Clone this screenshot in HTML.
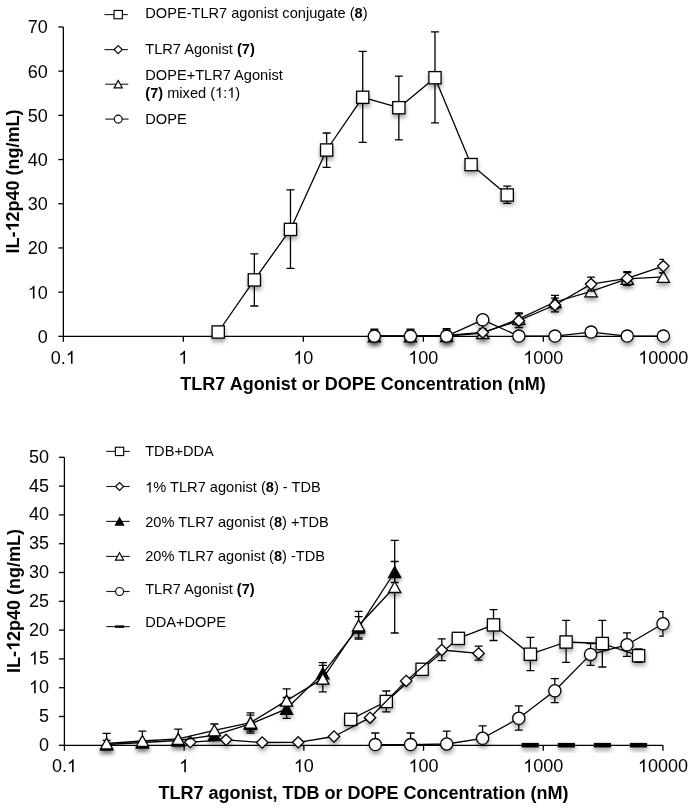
<!DOCTYPE html>
<html><head><meta charset="utf-8"><style>
html,body{margin:0;padding:0;background:#fff;width:691px;height:808px;overflow:hidden}
svg{display:block;will-change:transform}
text{font-family:"Liberation Sans",sans-serif;fill:#000}
</style></head><body>
<svg width="691" height="808" viewBox="0 0 691 808">
<defs><filter id="sh" x="-50%" y="-50%" width="200%" height="250%"><feDropShadow dx="0.3" dy="3.2" stdDeviation="2.1" flood-color="#000" flood-opacity="0.36"/></filter>
<clipPath id="c1"><rect x="0" y="0" width="663.8" height="336.2"/></clipPath>
<clipPath id="c2"><rect x="0" y="400" width="663.8" height="345.2"/></clipPath></defs>
<path d="M63.35 26.95V336.35H663.4" stroke="#000" stroke-width="1.3" fill="none"/>
<path d="M58.35 336.35H63.35" stroke="#000" stroke-width="1.3"/>
<text x="47.8" y="342.8" font-size="18" text-anchor="end">0</text>
<path d="M58.35 292.15H63.35" stroke="#000" stroke-width="1.3"/>
<text id="t0" x="47.8" y="298.6" font-size="18" text-anchor="end"> 0</text>
<path d="M58.35 247.95H63.35" stroke="#000" stroke-width="1.3"/>
<text x="47.8" y="254.4" font-size="18" text-anchor="end">20</text>
<path d="M58.35 203.75H63.35" stroke="#000" stroke-width="1.3"/>
<text x="47.8" y="210.2" font-size="18" text-anchor="end">30</text>
<path d="M58.35 159.55H63.35" stroke="#000" stroke-width="1.3"/>
<text x="47.8" y="166.0" font-size="18" text-anchor="end">40</text>
<path d="M58.35 115.35H63.35" stroke="#000" stroke-width="1.3"/>
<text x="47.8" y="121.8" font-size="18" text-anchor="end">50</text>
<path d="M58.35 71.15H63.35" stroke="#000" stroke-width="1.3"/>
<text x="47.8" y="77.6" font-size="18" text-anchor="end">60</text>
<path d="M58.35 26.95H63.35" stroke="#000" stroke-width="1.3"/>
<text x="47.8" y="33.4" font-size="18" text-anchor="end">70</text>
<path d="M63.35 336.35V341.85" stroke="#000" stroke-width="1.3"/>
<text id="t1" x="63.35" y="363.8" font-size="18" text-anchor="middle">0. </text>
<path d="M183.35 336.35V341.85" stroke="#000" stroke-width="1.3"/>
<text id="t2" x="183.35" y="363.8" font-size="18" text-anchor="middle"> </text>
<path d="M303.35 336.35V341.85" stroke="#000" stroke-width="1.3"/>
<text id="t3" x="303.35" y="363.8" font-size="18" text-anchor="middle"> 0</text>
<path d="M423.35 336.35V341.85" stroke="#000" stroke-width="1.3"/>
<text id="t4" x="423.35" y="363.8" font-size="18" text-anchor="middle"> 00</text>
<path d="M543.35 336.35V341.85" stroke="#000" stroke-width="1.3"/>
<text id="t5" x="543.35" y="363.8" font-size="18" text-anchor="middle"> 000</text>
<path d="M663.35 336.35V341.85" stroke="#000" stroke-width="1.3"/>
<text id="t6" x="663.35" y="363.8" font-size="18" text-anchor="middle"> 0000</text>
<text x="363" y="389.9" font-size="18" text-anchor="middle" font-weight="bold">TLR7 Agonist or DOPE Concentration (nM)</text>
<g transform="translate(18.8 181.6) rotate(-90)"><text id="t7" x="0" y="0" font-size="18" text-anchor="middle" font-weight="bold">IL- 2p40 (ng/mL)</text><path d="M856 0L575 0L575 1059Q421 915 212 847L212 1102Q322 1138 451 1238Q580 1338 628 1466L856 1466Z" transform="translate(-50.023 0.000) scale(0.008789 -0.008789)" fill="#000"/></g>
<path d="M218.23 332.00 L254.36 279.90 L290.48 229.40 L326.61 150.00 L362.73 97.30 L398.86 107.70 L434.98 77.70 L471.10 164.60 L507.23 195.00" stroke="#000" stroke-width="1.3" fill="none" stroke-linejoin="round"/>
<path d="M254.36 253.90V306.00M250.36 253.90H258.36M250.36 306.00H258.36" stroke="#000" stroke-width="1.3" fill="none" clip-path="url(#c1)"/>
<path d="M290.48 189.80V268.30M286.48 189.80H294.48M286.48 268.30H294.48" stroke="#000" stroke-width="1.3" fill="none" clip-path="url(#c1)"/>
<path d="M326.61 133.00V167.30M322.61 133.00H330.61M322.61 167.30H330.61" stroke="#000" stroke-width="1.3" fill="none" clip-path="url(#c1)"/>
<path d="M362.73 51.40V142.40M358.73 51.40H366.73M358.73 142.40H366.73" stroke="#000" stroke-width="1.3" fill="none" clip-path="url(#c1)"/>
<path d="M398.86 76.20V139.80M394.86 76.20H402.86M394.86 139.80H402.86" stroke="#000" stroke-width="1.3" fill="none" clip-path="url(#c1)"/>
<path d="M434.98 31.80V122.90M430.98 31.80H438.98M430.98 122.90H438.98" stroke="#000" stroke-width="1.3" fill="none" clip-path="url(#c1)"/>
<path d="M507.23 186.20V203.40M503.23 186.20H511.23M503.23 203.40H511.23" stroke="#000" stroke-width="1.3" fill="none" clip-path="url(#c1)"/>
<rect x="212.13" y="325.90" width="12.20" height="12.20" fill="#fff" stroke="#000" stroke-width="1.3" filter="url(#sh)"/>
<rect x="248.26" y="273.80" width="12.20" height="12.20" fill="#fff" stroke="#000" stroke-width="1.3" filter="url(#sh)"/>
<rect x="284.38" y="223.30" width="12.20" height="12.20" fill="#fff" stroke="#000" stroke-width="1.3" filter="url(#sh)"/>
<rect x="320.51" y="143.90" width="12.20" height="12.20" fill="#fff" stroke="#000" stroke-width="1.3" filter="url(#sh)"/>
<rect x="356.63" y="91.20" width="12.20" height="12.20" fill="#fff" stroke="#000" stroke-width="1.3" filter="url(#sh)"/>
<rect x="392.76" y="101.60" width="12.20" height="12.20" fill="#fff" stroke="#000" stroke-width="1.3" filter="url(#sh)"/>
<rect x="428.88" y="71.60" width="12.20" height="12.20" fill="#fff" stroke="#000" stroke-width="1.3" filter="url(#sh)"/>
<rect x="465.00" y="158.50" width="12.20" height="12.20" fill="#fff" stroke="#000" stroke-width="1.3" filter="url(#sh)"/>
<rect x="501.13" y="188.90" width="12.20" height="12.20" fill="#fff" stroke="#000" stroke-width="1.3" filter="url(#sh)"/>
<path d="M374.36 336.40 L410.48 336.40 L446.61 336.00 L482.73 333.20 L518.86 318.90 L554.98 302.00 L591.10 291.30 L627.23 278.90 L663.35 276.80" stroke="#000" stroke-width="1.3" fill="none" stroke-linejoin="round"/>
<path d="M374.36 330.20V342.60M370.36 330.20H378.36M370.36 342.60H378.36" stroke="#000" stroke-width="1.3" fill="none" clip-path="url(#c1)"/>
<path d="M410.48 330.20V342.60M406.48 330.20H414.48M406.48 342.60H414.48" stroke="#000" stroke-width="1.3" fill="none" clip-path="url(#c1)"/>
<path d="M446.61 329.80V342.20M442.61 329.80H450.61M442.61 342.20H450.61" stroke="#000" stroke-width="1.3" fill="none" clip-path="url(#c1)"/>

<path d="M518.86 313.00V324.80M514.86 313.00H522.86M514.86 324.80H522.86" stroke="#000" stroke-width="1.3" fill="none" clip-path="url(#c1)"/>
<path d="M554.98 295.30V308.70M550.98 295.30H558.98M550.98 308.70H558.98" stroke="#000" stroke-width="1.3" fill="none" clip-path="url(#c1)"/>

<path d="M627.23 272.60V285.20M623.23 272.60H631.23M623.23 285.20H631.23" stroke="#000" stroke-width="1.3" fill="none" clip-path="url(#c1)"/>
<path d="M663.35 272.90V280.70M659.35 272.90H667.35M659.35 280.70H667.35" stroke="#000" stroke-width="1.3" fill="none" clip-path="url(#c1)"/>
<path d="M374.36 330.90L380.46 341.90L368.26 341.90Z" fill="#fff" stroke="#000" stroke-width="1.3" stroke-linejoin="miter" filter="url(#sh)"/>
<path d="M410.48 330.90L416.58 341.90L404.38 341.90Z" fill="#fff" stroke="#000" stroke-width="1.3" stroke-linejoin="miter" filter="url(#sh)"/>
<path d="M446.61 330.50L452.71 341.50L440.51 341.50Z" fill="#fff" stroke="#000" stroke-width="1.3" stroke-linejoin="miter" filter="url(#sh)"/>
<path d="M482.73 327.70L488.83 338.70L476.63 338.70Z" fill="#fff" stroke="#000" stroke-width="1.3" stroke-linejoin="miter" filter="url(#sh)"/>
<path d="M518.86 313.40L524.96 324.40L512.76 324.40Z" fill="#fff" stroke="#000" stroke-width="1.3" stroke-linejoin="miter" filter="url(#sh)"/>
<path d="M554.98 296.50L561.08 307.50L548.88 307.50Z" fill="#fff" stroke="#000" stroke-width="1.3" stroke-linejoin="miter" filter="url(#sh)"/>
<path d="M591.10 285.80L597.20 296.80L585.00 296.80Z" fill="#fff" stroke="#000" stroke-width="1.3" stroke-linejoin="miter" filter="url(#sh)"/>
<path d="M627.23 273.40L633.33 284.40L621.13 284.40Z" fill="#fff" stroke="#000" stroke-width="1.3" stroke-linejoin="miter" filter="url(#sh)"/>
<path d="M663.35 271.30L669.45 282.30L657.25 282.30Z" fill="#fff" stroke="#000" stroke-width="1.3" stroke-linejoin="miter" filter="url(#sh)"/>
<path d="M374.36 336.00 L410.48 336.00 L446.61 335.50 L482.73 332.40 L518.86 320.70 L554.98 305.00 L591.10 284.10 L627.23 278.40 L663.35 266.10" stroke="#000" stroke-width="1.3" fill="none" stroke-linejoin="round"/>
<path d="M374.36 329.20V342.80M370.36 329.20H378.36M370.36 342.80H378.36" stroke="#000" stroke-width="1.3" fill="none" clip-path="url(#c1)"/>
<path d="M410.48 329.20V342.80M406.48 329.20H414.48M406.48 342.80H414.48" stroke="#000" stroke-width="1.3" fill="none" clip-path="url(#c1)"/>
<path d="M446.61 328.60V342.40M442.61 328.60H450.61M442.61 342.40H450.61" stroke="#000" stroke-width="1.3" fill="none" clip-path="url(#c1)"/>
<path d="M482.73 329.00V335.80M478.73 329.00H486.73M478.73 335.80H486.73" stroke="#000" stroke-width="1.3" fill="none" clip-path="url(#c1)"/>
<path d="M518.86 313.80V327.60M514.86 313.80H522.86M514.86 327.60H522.86" stroke="#000" stroke-width="1.3" fill="none" clip-path="url(#c1)"/>
<path d="M554.98 298.20V311.80M550.98 298.20H558.98M550.98 311.80H558.98" stroke="#000" stroke-width="1.3" fill="none" clip-path="url(#c1)"/>
<path d="M591.10 277.10V291.10M587.10 277.10H595.10M587.10 291.10H595.10" stroke="#000" stroke-width="1.3" fill="none" clip-path="url(#c1)"/>
<path d="M627.23 271.60V285.20M623.23 271.60H631.23M623.23 285.20H631.23" stroke="#000" stroke-width="1.3" fill="none" clip-path="url(#c1)"/>
<path d="M663.35 259.30V272.90M659.35 259.30H667.35M659.35 272.90H667.35" stroke="#000" stroke-width="1.3" fill="none" clip-path="url(#c1)"/>
<path d="M374.36 330.40L380.06 336.00L374.36 341.60L368.66 336.00Z" fill="#fff" stroke="#000" stroke-width="1.3" stroke-linejoin="miter" filter="url(#sh)"/>
<path d="M410.48 330.40L416.18 336.00L410.48 341.60L404.78 336.00Z" fill="#fff" stroke="#000" stroke-width="1.3" stroke-linejoin="miter" filter="url(#sh)"/>
<path d="M446.61 329.90L452.31 335.50L446.61 341.10L440.91 335.50Z" fill="#fff" stroke="#000" stroke-width="1.3" stroke-linejoin="miter" filter="url(#sh)"/>
<path d="M482.73 326.80L488.43 332.40L482.73 338.00L477.03 332.40Z" fill="#fff" stroke="#000" stroke-width="1.3" stroke-linejoin="miter" filter="url(#sh)"/>
<path d="M518.86 315.10L524.56 320.70L518.86 326.30L513.16 320.70Z" fill="#fff" stroke="#000" stroke-width="1.3" stroke-linejoin="miter" filter="url(#sh)"/>
<path d="M554.98 299.40L560.68 305.00L554.98 310.60L549.28 305.00Z" fill="#fff" stroke="#000" stroke-width="1.3" stroke-linejoin="miter" filter="url(#sh)"/>
<path d="M591.10 278.50L596.80 284.10L591.10 289.70L585.40 284.10Z" fill="#fff" stroke="#000" stroke-width="1.3" stroke-linejoin="miter" filter="url(#sh)"/>
<path d="M627.23 272.80L632.93 278.40L627.23 284.00L621.53 278.40Z" fill="#fff" stroke="#000" stroke-width="1.3" stroke-linejoin="miter" filter="url(#sh)"/>
<path d="M663.35 260.50L669.05 266.10L663.35 271.70L657.65 266.10Z" fill="#fff" stroke="#000" stroke-width="1.3" stroke-linejoin="miter" filter="url(#sh)"/>
<path d="M374.36 336.10 L410.48 336.10 L446.61 336.10 L482.73 319.80 L518.86 336.10 L554.98 336.10 L591.10 332.10 L627.23 336.10 L663.35 336.10" stroke="#000" stroke-width="1.3" fill="none" stroke-linejoin="round"/>
<circle cx="374.36" cy="336.10" r="6.10" fill="#fff" stroke="#000" stroke-width="1.3" filter="url(#sh)"/>
<circle cx="410.48" cy="336.10" r="6.10" fill="#fff" stroke="#000" stroke-width="1.3" filter="url(#sh)"/>
<circle cx="446.61" cy="336.10" r="6.10" fill="#fff" stroke="#000" stroke-width="1.3" filter="url(#sh)"/>
<circle cx="482.73" cy="319.80" r="6.10" fill="#fff" stroke="#000" stroke-width="1.3" filter="url(#sh)"/>
<circle cx="518.86" cy="336.10" r="6.10" fill="#fff" stroke="#000" stroke-width="1.3" filter="url(#sh)"/>
<circle cx="554.98" cy="336.10" r="6.10" fill="#fff" stroke="#000" stroke-width="1.3" filter="url(#sh)"/>
<circle cx="591.10" cy="332.10" r="6.10" fill="#fff" stroke="#000" stroke-width="1.3" filter="url(#sh)"/>
<circle cx="627.23" cy="336.10" r="6.10" fill="#fff" stroke="#000" stroke-width="1.3" filter="url(#sh)"/>
<circle cx="663.35" cy="336.10" r="6.10" fill="#fff" stroke="#000" stroke-width="1.3" filter="url(#sh)"/>
<path d="M104.4 14.6H127.9" stroke="#1a1a1a" stroke-width="1.1"/>
<rect x="114.05" y="10.45" width="8.30" height="8.30" fill="#fff" stroke="#000" stroke-width="1.15"/>
<path d="M104.4 49.6H127.9" stroke="#1a1a1a" stroke-width="1.1"/>
<path d="M118.20 45.57L122.30 49.60L118.20 53.63L114.10 49.60Z" fill="#fff" stroke="#000" stroke-width="1.15" stroke-linejoin="miter"/>
<path d="M105.3 84.2H128.3" stroke="#1a1a1a" stroke-width="1.1"/>
<path d="M118.20 80.52L122.29 87.89L114.11 87.89Z" fill="#fff" stroke="#000" stroke-width="1.15" stroke-linejoin="miter"/>
<path d="M105.3 119.1H128.6" stroke="#1a1a1a" stroke-width="1.1"/>
<circle cx="118.20" cy="119.10" r="3.96" fill="#fff" stroke="#000" stroke-width="1.15"/>
<text x="145.3" y="17.8" font-size="14.6">DOPE-TLR7 agonist conjugate (<tspan font-weight="bold">8</tspan>)</text>
<text x="145.3" y="53.8" font-size="14.6">TLR7 Agonist <tspan font-weight="bold">(7)</tspan></text>
<text x="145.3" y="80.3" font-size="14.6">DOPE+TLR7 Agonist</text>
<text id="t8" x="145.3" y="97.8" font-size="14.6"><tspan font-weight="bold">(7)</tspan> mixed ( : )</text>
<text x="145.3" y="124.0" font-size="14.6">DOPE</text>
<path d="M64.4 457.30V745.3H663.0" stroke="#000" stroke-width="1.3" fill="none"/>
<path d="M58.900000000000006 745.30H64.4" stroke="#000" stroke-width="1.3"/>
<text x="49.0" y="750.8" font-size="18" text-anchor="end">0</text>
<path d="M58.900000000000006 716.50H64.4" stroke="#000" stroke-width="1.3"/>
<text x="49.0" y="722.0" font-size="18" text-anchor="end">5</text>
<path d="M58.900000000000006 687.70H64.4" stroke="#000" stroke-width="1.3"/>
<text id="t9" x="49.0" y="693.2" font-size="18" text-anchor="end"> 0</text>
<path d="M58.900000000000006 658.90H64.4" stroke="#000" stroke-width="1.3"/>
<text id="t10" x="49.0" y="664.4" font-size="18" text-anchor="end"> 5</text>
<path d="M58.900000000000006 630.10H64.4" stroke="#000" stroke-width="1.3"/>
<text x="49.0" y="635.6" font-size="18" text-anchor="end">20</text>
<path d="M58.900000000000006 601.30H64.4" stroke="#000" stroke-width="1.3"/>
<text x="49.0" y="606.8" font-size="18" text-anchor="end">25</text>
<path d="M58.900000000000006 572.50H64.4" stroke="#000" stroke-width="1.3"/>
<text x="49.0" y="578.0" font-size="18" text-anchor="end">30</text>
<path d="M58.900000000000006 543.70H64.4" stroke="#000" stroke-width="1.3"/>
<text x="49.0" y="549.2" font-size="18" text-anchor="end">35</text>
<path d="M58.900000000000006 514.90H64.4" stroke="#000" stroke-width="1.3"/>
<text x="49.0" y="520.4" font-size="18" text-anchor="end">40</text>
<path d="M58.900000000000006 486.10H64.4" stroke="#000" stroke-width="1.3"/>
<text x="49.0" y="491.6" font-size="18" text-anchor="end">45</text>
<path d="M58.900000000000006 457.30H64.4" stroke="#000" stroke-width="1.3"/>
<text x="49.0" y="462.8" font-size="18" text-anchor="end">50</text>
<path d="M64.45 745.3V750.8" stroke="#000" stroke-width="1.3"/>
<text id="t11" x="64.45" y="772.3" font-size="18" text-anchor="middle">0. </text>
<path d="M184.15 745.3V750.8" stroke="#000" stroke-width="1.3"/>
<text id="t12" x="184.15" y="772.3" font-size="18" text-anchor="middle"> </text>
<path d="M303.85 745.3V750.8" stroke="#000" stroke-width="1.3"/>
<text id="t13" x="303.85" y="772.3" font-size="18" text-anchor="middle"> 0</text>
<path d="M423.55 745.3V750.8" stroke="#000" stroke-width="1.3"/>
<text id="t14" x="423.55" y="772.3" font-size="18" text-anchor="middle"> 00</text>
<path d="M543.25 745.3V750.8" stroke="#000" stroke-width="1.3"/>
<text id="t15" x="543.25" y="772.3" font-size="18" text-anchor="middle"> 000</text>
<path d="M662.95 745.3V750.8" stroke="#000" stroke-width="1.3"/>
<text id="t16" x="662.95" y="772.3" font-size="18" text-anchor="middle"> 0000</text>
<text x="363.6" y="798.8" font-size="18" text-anchor="middle" font-weight="bold">TLR7 agonist, TDB or DOPE Concentration (nM)</text>
<g transform="translate(19.5 601) rotate(-90)"><text id="t17" x="0" y="0" font-size="18" text-anchor="middle" font-weight="bold">IL- 2p40 (ng/mL)</text><path d="M856 0L575 0L575 1059Q421 915 212 847L212 1102Q322 1138 451 1238Q580 1338 628 1466L856 1466Z" transform="translate(-50.023 0.000) scale(0.008789 -0.008789)" fill="#000"/></g>
<path d="M375.30 744.60 L410.60 744.60 L446.70 744.00 L482.60 738.30 L518.80 718.30 L554.80 690.80 L590.60 654.40 L627.00 644.80 L663.00 623.80" stroke="#000" stroke-width="1.3" fill="none" stroke-linejoin="round"/>
<path d="M375.30 733.00V756.20M371.30 733.00H379.30M371.30 756.20H379.30" stroke="#000" stroke-width="1.3" fill="none" clip-path="url(#c2)"/>
<path d="M410.60 733.00V756.20M406.60 733.00H414.60M406.60 756.20H414.60" stroke="#000" stroke-width="1.3" fill="none" clip-path="url(#c2)"/>
<path d="M446.70 731.20V756.80M442.70 731.20H450.70M442.70 756.80H450.70" stroke="#000" stroke-width="1.3" fill="none" clip-path="url(#c2)"/>
<path d="M482.60 725.90V750.70M478.60 725.90H486.60M478.60 750.70H486.60" stroke="#000" stroke-width="1.3" fill="none" clip-path="url(#c2)"/>
<path d="M518.80 705.80V730.20M514.80 705.80H522.80M514.80 730.20H522.80" stroke="#000" stroke-width="1.3" fill="none" clip-path="url(#c2)"/>
<path d="M554.80 678.60V702.70M550.80 678.60H558.80M550.80 702.70H558.80" stroke="#000" stroke-width="1.3" fill="none" clip-path="url(#c2)"/>
<path d="M590.60 643.50V665.30M586.60 643.50H594.60M586.60 665.30H594.60" stroke="#000" stroke-width="1.3" fill="none" clip-path="url(#c2)"/>
<path d="M627.00 632.80V656.30M623.00 632.80H631.00M623.00 656.30H631.00" stroke="#000" stroke-width="1.3" fill="none" clip-path="url(#c2)"/>
<path d="M663.00 611.60V636.20M659.00 611.60H667.00M659.00 636.20H667.00" stroke="#000" stroke-width="1.3" fill="none" clip-path="url(#c2)"/>
<circle cx="375.30" cy="744.60" r="6.10" fill="#fff" stroke="#000" stroke-width="1.3" filter="url(#sh)"/>
<circle cx="410.60" cy="744.60" r="6.10" fill="#fff" stroke="#000" stroke-width="1.3" filter="url(#sh)"/>
<circle cx="446.70" cy="744.00" r="6.10" fill="#fff" stroke="#000" stroke-width="1.3" filter="url(#sh)"/>
<circle cx="482.60" cy="738.30" r="6.10" fill="#fff" stroke="#000" stroke-width="1.3" filter="url(#sh)"/>
<circle cx="518.80" cy="718.30" r="6.10" fill="#fff" stroke="#000" stroke-width="1.3" filter="url(#sh)"/>
<circle cx="554.80" cy="690.80" r="6.10" fill="#fff" stroke="#000" stroke-width="1.3" filter="url(#sh)"/>
<circle cx="590.60" cy="654.40" r="6.10" fill="#fff" stroke="#000" stroke-width="1.3" filter="url(#sh)"/>
<circle cx="627.00" cy="644.80" r="6.10" fill="#fff" stroke="#000" stroke-width="1.3" filter="url(#sh)"/>
<circle cx="663.00" cy="623.80" r="6.10" fill="#fff" stroke="#000" stroke-width="1.3" filter="url(#sh)"/>
<path d="M350.70 719.40 L386.30 701.50 L422.10 669.30 L458.30 638.40 L493.50 624.90 L530.40 654.20 L566.10 642.00 L602.30 643.50 L638.60 655.70" stroke="#000" stroke-width="1.3" fill="none" stroke-linejoin="round"/>

<path d="M386.30 691.00V711.90M382.30 691.00H390.30M382.30 711.90H390.30" stroke="#000" stroke-width="1.3" fill="none" clip-path="url(#c2)"/>


<path d="M493.50 609.60V640.50M489.50 609.60H497.50M489.50 640.50H497.50" stroke="#000" stroke-width="1.3" fill="none" clip-path="url(#c2)"/>
<path d="M530.40 637.40V670.70M526.40 637.40H534.40M526.40 670.70H534.40" stroke="#000" stroke-width="1.3" fill="none" clip-path="url(#c2)"/>
<path d="M566.10 620.30V662.40M562.10 620.30H570.10M562.10 662.40H570.10" stroke="#000" stroke-width="1.3" fill="none" clip-path="url(#c2)"/>
<path d="M602.30 620.30V667.00M598.30 620.30H606.30M598.30 667.00H606.30" stroke="#000" stroke-width="1.3" fill="none" clip-path="url(#c2)"/>
<path d="M638.60 649.00V662.40M634.60 649.00H642.60M634.60 662.40H642.60" stroke="#000" stroke-width="1.3" fill="none" clip-path="url(#c2)"/>
<rect x="344.60" y="713.30" width="12.20" height="12.20" fill="#fff" stroke="#000" stroke-width="1.3" filter="url(#sh)"/>
<rect x="380.20" y="695.40" width="12.20" height="12.20" fill="#fff" stroke="#000" stroke-width="1.3" filter="url(#sh)"/>
<rect x="416.00" y="663.20" width="12.20" height="12.20" fill="#fff" stroke="#000" stroke-width="1.3" filter="url(#sh)"/>
<rect x="452.20" y="632.30" width="12.20" height="12.20" fill="#fff" stroke="#000" stroke-width="1.3" filter="url(#sh)"/>
<rect x="487.40" y="618.80" width="12.20" height="12.20" fill="#fff" stroke="#000" stroke-width="1.3" filter="url(#sh)"/>
<rect x="524.30" y="648.10" width="12.20" height="12.20" fill="#fff" stroke="#000" stroke-width="1.3" filter="url(#sh)"/>
<rect x="560.00" y="635.90" width="12.20" height="12.20" fill="#fff" stroke="#000" stroke-width="1.3" filter="url(#sh)"/>
<rect x="596.20" y="637.40" width="12.20" height="12.20" fill="#fff" stroke="#000" stroke-width="1.3" filter="url(#sh)"/>
<rect x="632.50" y="649.60" width="12.20" height="12.20" fill="#fff" stroke="#000" stroke-width="1.3" filter="url(#sh)"/>
<path d="M190.30 742.10 L226.10 739.80 L262.20 742.50 L298.20 742.30 L334.00 736.50 L370.00 717.70 L406.20 680.90 L441.80 650.00 L478.60 653.40" stroke="#000" stroke-width="1.3" fill="none" stroke-linejoin="round"/>







<path d="M441.80 638.90V660.60M437.80 638.90H445.80M437.80 660.60H445.80" stroke="#000" stroke-width="1.3" fill="none" clip-path="url(#c2)"/>
<path d="M478.60 646.20V660.10M474.60 646.20H482.60M474.60 660.10H482.60" stroke="#000" stroke-width="1.3" fill="none" clip-path="url(#c2)"/>
<path d="M190.30 736.50L196.00 742.10L190.30 747.70L184.60 742.10Z" fill="#fff" stroke="#000" stroke-width="1.3" stroke-linejoin="miter" filter="url(#sh)"/>
<path d="M226.10 734.20L231.80 739.80L226.10 745.40L220.40 739.80Z" fill="#fff" stroke="#000" stroke-width="1.3" stroke-linejoin="miter" filter="url(#sh)"/>
<path d="M262.20 736.90L267.90 742.50L262.20 748.10L256.50 742.50Z" fill="#fff" stroke="#000" stroke-width="1.3" stroke-linejoin="miter" filter="url(#sh)"/>
<path d="M298.20 736.70L303.90 742.30L298.20 747.90L292.50 742.30Z" fill="#fff" stroke="#000" stroke-width="1.3" stroke-linejoin="miter" filter="url(#sh)"/>
<path d="M334.00 730.90L339.70 736.50L334.00 742.10L328.30 736.50Z" fill="#fff" stroke="#000" stroke-width="1.3" stroke-linejoin="miter" filter="url(#sh)"/>
<path d="M370.00 712.10L375.70 717.70L370.00 723.30L364.30 717.70Z" fill="#fff" stroke="#000" stroke-width="1.3" stroke-linejoin="miter" filter="url(#sh)"/>
<path d="M406.20 675.30L411.90 680.90L406.20 686.50L400.50 680.90Z" fill="#fff" stroke="#000" stroke-width="1.3" stroke-linejoin="miter" filter="url(#sh)"/>
<path d="M441.80 644.40L447.50 650.00L441.80 655.60L436.10 650.00Z" fill="#fff" stroke="#000" stroke-width="1.3" stroke-linejoin="miter" filter="url(#sh)"/>
<path d="M478.60 647.80L484.30 653.40L478.60 659.00L472.90 653.40Z" fill="#fff" stroke="#000" stroke-width="1.3" stroke-linejoin="miter" filter="url(#sh)"/>
<path d="M106.60 744.50 L142.40 742.50 L178.20 740.50 L214.40 735.20 L250.50 723.90 L286.60 708.80 L322.80 673.40 L358.60 627.60 L394.70 572.00" stroke="#000" stroke-width="1.3" fill="none" stroke-linejoin="round"/>
<path d="M106.60 740.30V748.70M102.60 740.30H110.60M102.60 748.70H110.60" stroke="#000" stroke-width="1.3" fill="none" clip-path="url(#c2)"/>



<path d="M250.50 715.20V733.20M246.50 715.20H254.50M246.50 733.20H254.50" stroke="#000" stroke-width="1.3" fill="none" clip-path="url(#c2)"/>
<path d="M286.60 697.50V718.40M282.60 697.50H290.60M282.60 718.40H290.60" stroke="#000" stroke-width="1.3" fill="none" clip-path="url(#c2)"/>
<path d="M322.80 662.70V684.10M318.80 662.70H326.80M318.80 684.10H326.80" stroke="#000" stroke-width="1.3" fill="none" clip-path="url(#c2)"/>
<path d="M358.60 616.60V637.90M354.60 616.60H362.60M354.60 637.90H362.60" stroke="#000" stroke-width="1.3" fill="none" clip-path="url(#c2)"/>
<path d="M394.70 561.50V582.50M390.70 561.50H398.70M390.70 582.50H398.70" stroke="#000" stroke-width="1.3" fill="none" clip-path="url(#c2)"/>
<path d="M106.60 739.00L112.70 750.00L100.50 750.00Z" fill="#000" stroke="#000" stroke-width="1.3" stroke-linejoin="miter" filter="url(#sh)"/>
<path d="M142.40 737.00L148.50 748.00L136.30 748.00Z" fill="#000" stroke="#000" stroke-width="1.3" stroke-linejoin="miter" filter="url(#sh)"/>
<path d="M178.20 735.00L184.30 746.00L172.10 746.00Z" fill="#000" stroke="#000" stroke-width="1.3" stroke-linejoin="miter" filter="url(#sh)"/>
<path d="M214.40 729.70L220.50 740.70L208.30 740.70Z" fill="#000" stroke="#000" stroke-width="1.3" stroke-linejoin="miter" filter="url(#sh)"/>
<path d="M250.50 718.40L256.60 729.40L244.40 729.40Z" fill="#000" stroke="#000" stroke-width="1.3" stroke-linejoin="miter" filter="url(#sh)"/>
<path d="M286.60 703.30L292.70 714.30L280.50 714.30Z" fill="#000" stroke="#000" stroke-width="1.3" stroke-linejoin="miter" filter="url(#sh)"/>
<path d="M322.80 667.90L328.90 678.90L316.70 678.90Z" fill="#000" stroke="#000" stroke-width="1.3" stroke-linejoin="miter" filter="url(#sh)"/>
<path d="M358.60 622.10L364.70 633.10L352.50 633.10Z" fill="#000" stroke="#000" stroke-width="1.3" stroke-linejoin="miter" filter="url(#sh)"/>
<path d="M394.70 566.50L400.80 577.50L388.60 577.50Z" fill="#000" stroke="#000" stroke-width="1.3" stroke-linejoin="miter" filter="url(#sh)"/>
<path d="M106.60 743.50 L142.40 741.00 L178.20 738.90 L214.40 730.30 L250.50 722.60 L286.60 700.60 L322.80 678.60 L358.60 625.50 L394.70 587.00" stroke="#000" stroke-width="1.3" fill="none" stroke-linejoin="round"/>
<path d="M106.60 733.40V753.60M102.60 733.40H110.60M102.60 753.60H110.60" stroke="#000" stroke-width="1.3" fill="none" clip-path="url(#c2)"/>
<path d="M142.40 731.20V750.80M138.40 731.20H146.40M138.40 750.80H146.40" stroke="#000" stroke-width="1.3" fill="none" clip-path="url(#c2)"/>
<path d="M178.20 729.20V748.60M174.20 729.20H182.20M174.20 748.60H182.20" stroke="#000" stroke-width="1.3" fill="none" clip-path="url(#c2)"/>
<path d="M214.40 724.00V736.60M210.40 724.00H218.40M210.40 736.60H218.40" stroke="#000" stroke-width="1.3" fill="none" clip-path="url(#c2)"/>
<path d="M250.50 712.80V731.10M246.50 712.80H254.50M246.50 731.10H254.50" stroke="#000" stroke-width="1.3" fill="none" clip-path="url(#c2)"/>
<path d="M286.60 688.90V712.30M282.60 688.90H290.60M282.60 712.30H290.60" stroke="#000" stroke-width="1.3" fill="none" clip-path="url(#c2)"/>
<path d="M322.80 665.40V691.80M318.80 665.40H326.80M318.80 691.80H326.80" stroke="#000" stroke-width="1.3" fill="none" clip-path="url(#c2)"/>
<path d="M358.60 611.40V639.20M354.60 611.40H362.60M354.60 639.20H362.60" stroke="#000" stroke-width="1.3" fill="none" clip-path="url(#c2)"/>
<path d="M394.70 540.30V633.00M390.70 540.30H398.70M390.70 633.00H398.70" stroke="#000" stroke-width="1.3" fill="none" clip-path="url(#c2)"/>
<path d="M106.60 738.00L112.70 749.00L100.50 749.00Z" fill="#fff" stroke="#000" stroke-width="1.3" stroke-linejoin="miter" filter="url(#sh)"/>
<path d="M142.40 735.50L148.50 746.50L136.30 746.50Z" fill="#fff" stroke="#000" stroke-width="1.3" stroke-linejoin="miter" filter="url(#sh)"/>
<path d="M178.20 733.40L184.30 744.40L172.10 744.40Z" fill="#fff" stroke="#000" stroke-width="1.3" stroke-linejoin="miter" filter="url(#sh)"/>
<path d="M214.40 724.80L220.50 735.80L208.30 735.80Z" fill="#fff" stroke="#000" stroke-width="1.3" stroke-linejoin="miter" filter="url(#sh)"/>
<path d="M250.50 717.10L256.60 728.10L244.40 728.10Z" fill="#fff" stroke="#000" stroke-width="1.3" stroke-linejoin="miter" filter="url(#sh)"/>
<path d="M286.60 695.10L292.70 706.10L280.50 706.10Z" fill="#fff" stroke="#000" stroke-width="1.3" stroke-linejoin="miter" filter="url(#sh)"/>
<path d="M322.80 673.10L328.90 684.10L316.70 684.10Z" fill="#fff" stroke="#000" stroke-width="1.3" stroke-linejoin="miter" filter="url(#sh)"/>
<path d="M358.60 620.00L364.70 631.00L352.50 631.00Z" fill="#fff" stroke="#000" stroke-width="1.3" stroke-linejoin="miter" filter="url(#sh)"/>
<path d="M394.70 581.50L400.80 592.50L388.60 592.50Z" fill="#fff" stroke="#000" stroke-width="1.3" stroke-linejoin="miter" filter="url(#sh)"/>
<rect x="521.60" y="742.90" width="17.2" height="4.6" fill="#000" filter="url(#sh)"/>
<rect x="557.80" y="742.90" width="17.2" height="4.6" fill="#000" filter="url(#sh)"/>
<rect x="593.80" y="742.90" width="17.2" height="4.6" fill="#000" filter="url(#sh)"/>
<rect x="629.90" y="742.90" width="17.2" height="4.6" fill="#000" filter="url(#sh)"/>
<path d="M106.3 451.4H129.7" stroke="#1a1a1a" stroke-width="1.1"/>
<rect x="115.40" y="447.25" width="8.30" height="8.30" fill="#fff" stroke="#000" stroke-width="1.15"/>
<text x="145.2" y="455.6" font-size="14.6">TDB+DDA</text>
<path d="M106.3 486.5H129.7" stroke="#1a1a1a" stroke-width="1.1"/>
<path d="M119.55 482.47L123.65 486.50L119.55 490.53L115.45 486.50Z" fill="#fff" stroke="#000" stroke-width="1.15" stroke-linejoin="miter"/>
<text id="t18" x="145.2" y="492.4" font-size="14.6"> % TLR7 agonist (<tspan font-weight="bold">8</tspan>) - TDB</text>
<path d="M106.3 521.4H129.7" stroke="#1a1a1a" stroke-width="1.1"/>
<path d="M119.55 517.72L123.64 525.08L115.46 525.08Z" fill="#000" stroke="#000" stroke-width="1.15" stroke-linejoin="miter"/>
<text x="145.2" y="527.2" font-size="14.6">20% TLR7 agonist (<tspan font-weight="bold">8</tspan>) +TDB</text>
<path d="M106.3 556.4H129.7" stroke="#1a1a1a" stroke-width="1.1"/>
<path d="M119.55 552.72L123.64 560.08L115.46 560.08Z" fill="#fff" stroke="#000" stroke-width="1.15" stroke-linejoin="miter"/>
<text x="145.2" y="561.2" font-size="14.6">20% TLR7 agonist (<tspan font-weight="bold">8</tspan>) -TDB</text>
<path d="M106.3 591.5H129.7" stroke="#1a1a1a" stroke-width="1.1"/>
<circle cx="119.55" cy="591.50" r="3.96" fill="#fff" stroke="#000" stroke-width="1.15"/>
<text x="145.2" y="593.5" font-size="14.6">TLR7 Agonist <tspan font-weight="bold">(7)</tspan></text>
<path d="M106.3 626.6H129.7" stroke="#1a1a1a" stroke-width="1.1"/>
<rect x="114.9" y="625.35" width="9.2" height="2.5" fill="#000"/>
<text x="145.2" y="626.8" font-size="14.6">DDA+DOPE</text>
<path d="M763 0L583 0L583 1147Q518 1085 412.5 1023Q307 961 223 930L223 1104Q374 1175 487 1276Q600 1377 647 1472L763 1472Z" transform="translate(27.769 298.600) scale(0.008789 -0.008789)" fill="#000"/>
<path d="M763 0L583 0L583 1147Q518 1085 412.5 1023Q307 961 223 930L223 1104Q374 1175 487 1276Q600 1377 647 1472L763 1472Z" transform="translate(65.834 363.800) scale(0.008789 -0.008789)" fill="#000"/>
<path d="M763 0L583 0L583 1147Q518 1085 412.5 1023Q307 961 223 930L223 1104Q374 1175 487 1276Q600 1377 647 1472L763 1472Z" transform="translate(178.342 363.800) scale(0.008789 -0.008789)" fill="#000"/>
<path d="M763 0L583 0L583 1147Q518 1085 412.5 1023Q307 961 223 930L223 1104Q374 1175 487 1276Q600 1377 647 1472L763 1472Z" transform="translate(293.334 363.800) scale(0.008789 -0.008789)" fill="#000"/>
<path d="M763 0L583 0L583 1147Q518 1085 412.5 1023Q307 961 223 930L223 1104Q374 1175 487 1276Q600 1377 647 1472L763 1472Z" transform="translate(408.327 363.800) scale(0.008789 -0.008789)" fill="#000"/>
<path d="M763 0L583 0L583 1147Q518 1085 412.5 1023Q307 961 223 930L223 1104Q374 1175 487 1276Q600 1377 647 1472L763 1472Z" transform="translate(523.327 363.800) scale(0.008789 -0.008789)" fill="#000"/>
<path d="M763 0L583 0L583 1147Q518 1085 412.5 1023Q307 961 223 930L223 1104Q374 1175 487 1276Q600 1377 647 1472L763 1472Z" transform="translate(638.319 363.800) scale(0.008789 -0.008789)" fill="#000"/>
<path d="M763 0L583 0L583 1147Q518 1085 412.5 1023Q307 961 223 930L223 1104Q374 1175 487 1276Q600 1377 647 1472L763 1472Z" transform="translate(215.034 97.800) scale(0.007129 -0.007129)" fill="#000"/><path d="M763 0L583 0L583 1147Q518 1085 412.5 1023Q307 961 223 930L223 1104Q374 1175 487 1276Q600 1377 647 1472L763 1472Z" transform="translate(227.206 97.800) scale(0.007129 -0.007129)" fill="#000"/>
<path d="M763 0L583 0L583 1147Q518 1085 412.5 1023Q307 961 223 930L223 1104Q374 1175 487 1276Q600 1377 647 1472L763 1472Z" transform="translate(28.969 693.200) scale(0.008789 -0.008789)" fill="#000"/>
<path d="M763 0L583 0L583 1147Q518 1085 412.5 1023Q307 961 223 930L223 1104Q374 1175 487 1276Q600 1377 647 1472L763 1472Z" transform="translate(28.969 664.400) scale(0.008789 -0.008789)" fill="#000"/>
<path d="M763 0L583 0L583 1147Q518 1085 412.5 1023Q307 961 223 930L223 1104Q374 1175 487 1276Q600 1377 647 1472L763 1472Z" transform="translate(66.934 772.300) scale(0.008789 -0.008789)" fill="#000"/>
<path d="M763 0L583 0L583 1147Q518 1085 412.5 1023Q307 961 223 930L223 1104Q374 1175 487 1276Q600 1377 647 1472L763 1472Z" transform="translate(179.142 772.300) scale(0.008789 -0.008789)" fill="#000"/>
<path d="M763 0L583 0L583 1147Q518 1085 412.5 1023Q307 961 223 930L223 1104Q374 1175 487 1276Q600 1377 647 1472L763 1472Z" transform="translate(293.834 772.300) scale(0.008789 -0.008789)" fill="#000"/>
<path d="M763 0L583 0L583 1147Q518 1085 412.5 1023Q307 961 223 930L223 1104Q374 1175 487 1276Q600 1377 647 1472L763 1472Z" transform="translate(408.527 772.300) scale(0.008789 -0.008789)" fill="#000"/>
<path d="M763 0L583 0L583 1147Q518 1085 412.5 1023Q307 961 223 930L223 1104Q374 1175 487 1276Q600 1377 647 1472L763 1472Z" transform="translate(523.227 772.300) scale(0.008789 -0.008789)" fill="#000"/>
<path d="M763 0L583 0L583 1147Q518 1085 412.5 1023Q307 961 223 930L223 1104Q374 1175 487 1276Q600 1377 647 1472L763 1472Z" transform="translate(637.919 772.300) scale(0.008789 -0.008789)" fill="#000"/>
<path d="M763 0L583 0L583 1147Q518 1085 412.5 1023Q307 961 223 930L223 1104Q374 1175 487 1276Q600 1377 647 1472L763 1472Z" transform="translate(145.200 492.400) scale(0.007129 -0.007129)" fill="#000"/>
</svg></body></html>
